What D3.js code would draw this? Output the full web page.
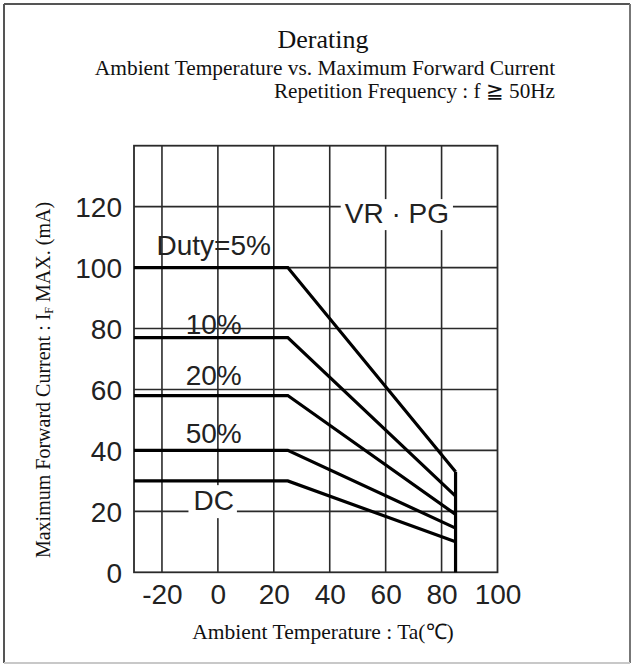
<!DOCTYPE html>
<html>
<head>
<meta charset="utf-8">
<script src="https://cdn.jsdelivr.net/npm/d3@7"></script>
<style>
html,body{margin:0;padding:0;background:#fff;}
svg{display:block;}
</style>
</head>
<body>
<svg id="chart" width="634" height="667"></svg>
<script>
// ---- data ----
const seriesNames = ["Duty=5%", "10%", "20%", "50%", "DC"];
const flatValues  = [100, 77, 58, 40, 30];      // mA, from -30 to knee
const kneeTemp    = 25;                          // degC
const endTemp     = 85;                          // degC
const endValues   = [33, 25, 19, 14.5, 10];      // mA at 85 degC
const startTemp   = -30;
const xTicks = [-20, 0, 20, 40, 60, 80, 100];
const yTicks = [0, 20, 40, 60, 80, 100, 120];
const xDomain = [-30, 100];
const yDomain = [0, 140];
// label anchors (temperature, current)
const labelTemp  = [-1.5, -1.5, -1.5, -1.5, -1.5];
const labelValue = [104.1, 78.3, 61.5, 42.4, 20.4];
const boxedLabel = [false, false, false, false, true];
const noteText = "VR · PG";
const noteTemp = 64, noteValue = 114.6;

const svg = d3.select("#chart");
const x = d3.scaleLinear().domain(xDomain).range([134, 497.5]);
const y = d3.scaleLinear().domain(yDomain).range([572.3, 145.7]);

// outer frame
svg.append("line").attr("x1",4).attr("y1",4).attr("x2",630).attr("y2",4).attr("stroke","#555").attr("stroke-width",2);
svg.append("line").attr("x1",4).attr("y1",4).attr("x2",4).attr("y2",663).attr("stroke","#555").attr("stroke-width",2);
svg.append("line").attr("x1",630).attr("y1",4).attr("x2",630).attr("y2",663).attr("stroke","#777").attr("stroke-width",2);
svg.append("line").attr("x1",4).attr("y1",663).attr("x2",630).attr("y2",663).attr("stroke","#c8c8c8").attr("stroke-width",2);

// titles
const serif = "'Liberation Serif','Times New Roman',serif";
const sans = "'Liberation Sans',Arial,sans-serif";
svg.append("text").attr("x",323).attr("y",48).attr("text-anchor","middle")
  .attr("font-family",serif).attr("font-size",26).attr("fill","#111").text("Derating");
svg.append("text").attr("x",325).attr("y",75).attr("text-anchor","middle")
  .attr("font-family",serif).attr("font-size",21.4).attr("fill","#111")
  .text("Ambient Temperature vs. Maximum Forward Current");
svg.append("text").attr("x",555).attr("y",98).attr("text-anchor","end")
  .attr("font-family",serif).attr("font-size",21.2).attr("fill","#111")
  .text("Repetition Frequency : f \u2267 50Hz");

// grid
const g = svg.append("g");
g.selectAll("line.vg").data(xTicks.filter(d => d > xDomain[0] && d < xDomain[1]))
  .join("line").attr("class","vg")
  .attr("x1",d=>x(d)).attr("x2",d=>x(d)).attr("y1",y(yDomain[0])).attr("y2",y(yDomain[1]))
  .attr("stroke","#2a2a2a").attr("stroke-width",1.6);
g.selectAll("line.hg").data(yTicks.filter(d => d > yDomain[0] && d < yDomain[1]))
  .join("line").attr("class","hg")
  .attr("x1",x(xDomain[0])).attr("x2",x(xDomain[1])).attr("y1",d=>y(d)).attr("y2",d=>y(d))
  .attr("stroke","#2a2a2a").attr("stroke-width",1.6);
g.append("rect").attr("x",x(xDomain[0])).attr("y",y(yDomain[1]))
  .attr("width",x(xDomain[1])-x(xDomain[0])).attr("height",y(yDomain[0])-y(yDomain[1]))
  .attr("fill","none").attr("stroke","#2a2a2a").attr("stroke-width",1.8);

// axes tick labels via d3 axes
const xAxis = svg.append("g").attr("transform",`translate(0,${y(0)})`)
  .call(d3.axisBottom(x).tickValues(xTicks).tickFormat(d=>String(d)).tickSize(0).tickPadding(10));
const yAxis = svg.append("g").attr("transform",`translate(${x(xDomain[0])},0)`)
  .call(d3.axisLeft(y).tickValues(yTicks).tickFormat(d=>String(d)).tickSize(0).tickPadding(12));
[xAxis,yAxis].forEach(a=>{
  a.select(".domain").remove();
  a.selectAll("text").attr("font-family",sans).attr("font-size",28).attr("fill","#222");
});
xAxis.selectAll("text").attr("dy",null).attr("y",null)
  .attr("transform","translate(0,31.5)");
yAxis.selectAll("text").attr("dy","0.36em");

// labels (behind curves where boxed)
const labelsG = svg.append("g");
seriesNames.forEach((name,i)=>{
  const t = labelsG.append("text").attr("x",x(labelTemp[i])).attr("y",y(labelValue[i]))
    .attr("text-anchor","middle").attr("font-family",sans).attr("font-size",28).attr("fill","#222")
    .text(name);
  if (boxedLabel[i]) {
    const b = t.node().getBBox();
    labelsG.insert("rect","text").attr("x",b.x-5).attr("y",b.y).attr("width",b.width+8).attr("height",b.height+2).attr("fill","#fff");
  }
});
const note = labelsG.append("text").attr("x",x(noteTemp)).attr("y",y(noteValue))
  .attr("text-anchor","middle").attr("font-family",sans).attr("font-size",28).attr("fill","#222").text(noteText);
{
  const b = note.node().getBBox();
  labelsG.insert("rect","text").attr("x",b.x-4).attr("y",b.y+1).attr("width",b.width+8).attr("height",b.height).attr("fill","#fff");
}

// curves
const line = d3.line().x(d=>x(d[0])).y(d=>y(d[1]));
const curves = seriesNames.map((n,i)=>[[startTemp,flatValues[i]],[kneeTemp,flatValues[i]],[endTemp,endValues[i]]]);
svg.append("g").selectAll("path").data(curves).join("path")
  .attr("d",line).attr("fill","none").attr("stroke","#000").attr("stroke-width",3.2)
  .attr("stroke-linejoin","miter");
svg.append("path").attr("d",line([[endTemp,d3.max(endValues)],[endTemp,0]]))
  .attr("fill","none").attr("stroke","#000").attr("stroke-width",3.2);

// axis titles
svg.append("text").attr("x",323).attr("y",639).attr("text-anchor","middle")
  .attr("font-family",serif).attr("font-size",21.5).attr("fill","#111")
  .text("Ambient Temperature : Ta(\u2103)");
const yt = svg.append("text").attr("transform","translate(50,380) rotate(-90)").attr("text-anchor","middle")
  .attr("font-family",serif).attr("font-size",20).attr("fill","#111");
yt.append("tspan").text("Maximum Forward Current : I");
yt.append("tspan").attr("font-size",12).attr("dy",3).text("F");
yt.append("tspan").attr("dy",-3).text(" MAX. (mA)");
</script>
</body>
</html>
